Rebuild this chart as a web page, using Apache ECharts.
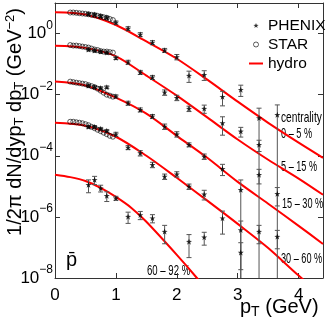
<!DOCTYPE html>
<html>
<head>
<meta charset="utf-8">
<script src="https://cdn.jsdelivr.net/npm/echarts@6/dist/echarts.min.js"></script>
<style>
html, body { margin: 0; padding: 0; background: #fff; }
#chart { width: 327px; height: 327px; }
</style>
</head>
<body>
<div id="chart"></div>
<script>
// hydro curves
var hydroPt = [0, 0.5, 1, 1.5, 2, 2.5, 3, 3.5, 4, 4.4];
var hydroPtPeri = [0, 0.25, 0.5, 0.75, 1, 1.25, 1.5, 2, 2.33, 2.5];
var hydro0_5 = [5.0, 4.2, 1.9, 0.55, 0.15, 0.031, 0.0059, 1.2e-3, 2.7e-4, 8.6e-5];
var hydro5_15 = [0.40, 0.34, 0.18, 0.042, 9.3e-3, 1.8e-3, 3.4e-4, 7.4e-5, 1.8e-5, 5.3e-6];
var hydro15_30 = [0.027, 0.020, 8.0e-3, 2.4e-3, 4.5e-4, 8.6e-5, 1.4e-5, 2.7e-6, 5.1e-7, 1.3e-7];
var hydro30_60 = [1.2e-3, 9.6e-4, 4.2e-4, 1.0e-4, 1.9e-5, 3.4e-6, 5.9e-7, 9.6e-8, 1.2e-8, 2.6e-9];
var hydro60_92 = [2.4e-5, 2.0e-5, 1.5e-5, 8.9e-6, 4.5e-6, 2.0e-6, 6.9e-7, 5.7e-8, 1.0e-8, 3.7e-9];

// PHENIX points and relative errors
var phenixPt = [0.55, 0.65, 0.75, 0.85, 1.0, 1.2, 1.4, 1.6, 1.8, 2.0, 2.2, 2.45, 2.75, 3.05, 3.35, 3.65];
var phenix0_5 = [4.36, 4.2, 3.75, 3.35, 2.3, 1.46, 0.93, 0.51, 0.283, 0.172, 0.042, 0.045, 8.6e-3, 0.0146, 1.72e-3, 2.2e-3];
var phenix5_15 = [0.30, 0.277, 0.257, 0.238, 0.16, 0.116, 0.054, 0.037, 0.0119, 7.97e-3, 3.5e-3, 3.5e-3, 1.18e-3, 6.3e-4, 2.3e-4, null];
var phenix15_30 = [0.0197, 0.0179, 0.0166, 0.0176, 8.8e-3, 5.3e-3, 3.2e-3, 1.95e-3, 9.1e-4, 5.1e-4, 2.3e-4, 9.5e-5, 3.75e-5, 7.7e-6, 2.4e-5, 5.7e-6];
var phenix30_60 = [8.9e-4, 8.9e-4, 7.7e-4, 6.6e-4, 5.1e-4, 1.87e-4, 1.23e-4, 5.1e-5, 2.1e-5, 2.5e-5, 9.9e-6, 5.5e-6, 9.1e-7, 3.75e-7, 3.3e-7, 2.26e-7];
var phenix60_92 = [1.12e-5, 1.63e-5, 8.7e-6, 4.9e-6, 4.1e-6, 1.02e-6, 1.16e-6, 9.1e-7, 3.3e-7, null, 1.55e-7, 2.16e-7, null, 6.8e-8, null, null];
var err0_5 = [0.1, 0.1, 0.1, 0.1, 0.12, 0.15, 0.15, 0.15, 0.15, 0.2, 0.4, 0.35, 0.5, 0.4, 1.1, 1.1];
var err5_15 = [0.1, 0.1, 0.1, 0.1, 0.12, 0.15, 0.15, 0.15, 0.2, 0.2, 0.2, 0.3, 0.6, 0.35, 0.4, null];
var err15_30 = [0.1, 0.1, 0.1, 0.1, 0.12, 0.15, 0.15, 0.15, 0.2, 0.2, 0.15, 0.2, 0.4, 1.1, 0.5, 0.6];
var err30_60 = [0.1, 0.1, 0.1, 0.1, 0.15, 0.15, 0.2, 0.2, 0.2, 0.2, 0.2, 0.35, 0.7, 0.95, 0.6, 0.6];
var err60_92 = [0.45, 0.3, 0.25, 0.35, 0.15, 0.4, 0.3, 0.3, 0.6, null, 0.7, 0.45, null, 1.1, null, null];

// STAR points
var starPt = [0.25, 0.3, 0.35, 0.4, 0.45, 0.5, 0.55, 0.6, 0.65, 0.7, 0.75, 0.8, 0.85, 0.9, 0.95];
var star0_5 = [4.88, 4.88, 4.77, 4.63, 4.53, 4.43, 4.29, 4.1, 3.98, 3.8, 3.61, 3.42, 3.27, 2.99, 2.77];
var star5_15 = [0.42, 0.404, 0.404, 0.389, 0.375, 0.361, 0.348, 0.322, 0.30, 0.288, 0.267, 0.257, 0.257, 0.247, 0.238];
var star15_30 = [0.0267, 0.0257, 0.0247, 0.0238, 0.023, 0.0221, 0.0205, 0.019, 0.0176, 0.0157, 0.0135, 0.0116, 0.01, 9.3e-3, 8.6e-3];
var star30_60 = [1.3e-3, 1.3e-3, 1.25e-3, 1.21e-3, 1.16e-3, 1.08e-3, 1.0e-3, 8.9e-4, 8.0e-4, 7.1e-4, 6.4e-4, 5.7e-4, 5.1e-4, 4.5e-4, 4.2e-4];

var xTicks = [0, 1, 2, 3, 4];
var yTicks = [1e-8, 1e-6, 1e-4, 1e-2, 1];

var FONT = "'Liberation Sans', Arial, sans-serif";
var STAR_PATH = 'path://M0,-10L2.35,-3.24L9.51,-3.09L3.8,1.24L5.88,8.09L0,4L-5.88,8.09L-3.8,1.24L-9.51,-3.09L-2.35,-3.24Z';

function zip(xs, ys) {
  var out = [];
  for (var i = 0; i < xs.length; i++) {
    if (ys[i] != null) out.push([xs[i], ys[i]]);
  }
  return out;
}

function errData(xs, ys, es) {
  var out = [];
  for (var i = 0; i < xs.length; i++) {
    if (ys[i] == null) continue;
    var lo = ys[i] * (1 - es[i]);
    if (lo <= 0) lo = 1e-10;
    out.push([xs[i], lo, ys[i] * (1 + es[i])]);
  }
  return out;
}

function renderErr(params, api) {
  var lo = api.coord([api.value(0), api.value(1)]);
  var hi = api.coord([api.value(0), api.value(2)]);
  var c = 2.5;
  var st = { stroke: '#555', lineWidth: 1 };
  return {
    type: 'group',
    children: [
      { type: 'line', shape: { x1: lo[0], y1: lo[1], x2: hi[0], y2: hi[1] }, style: st },
      { type: 'line', shape: { x1: hi[0] - c, y1: hi[1], x2: hi[0] + c, y2: hi[1] }, style: st },
      { type: 'line', shape: { x1: lo[0] - c, y1: lo[1], x2: lo[0] + c, y2: lo[1] }, style: st }
    ]
  };
}

var chart = echarts.init(document.getElementById('chart'));

var series = [];
[[hydroPt, hydro0_5], [hydroPt, hydro5_15], [hydroPt, hydro15_30], [hydroPt, hydro30_60], [hydroPtPeri, hydro60_92]].forEach(function (h) {
  series.push({
    name: 'hydro', type: 'line', data: zip(h[0], h[1]), smooth: 0.3, showSymbol: false,
    lineStyle: { color: '#ff0000', width: 2 }, itemStyle: { color: '#ff0000' }, clip: true, z: 2, silent: true
  });
});
[[phenix0_5, err0_5], [phenix5_15, err5_15], [phenix15_30, err15_30], [phenix30_60, err30_60], [phenix60_92, err60_92]].forEach(function (p) {
  series.push({
    name: 'err', type: 'custom', data: errData(phenixPt, p[0], p[1]), renderItem: renderErr, clip: true, z: 3, silent: true
  });
  series.push({
    name: 'PHENIX', type: 'scatter', data: zip(phenixPt, p[0]), symbol: STAR_PATH, symbolSize: 6,
    itemStyle: { color: '#000' }, z: 4, silent: true
  });
});
[star0_5, star5_15, star15_30, star30_60].forEach(function (s) {
  series.push({
    name: 'STAR', type: 'scatter', data: zip(starPt, s), symbol: 'circle', symbolSize: 5,
    itemStyle: { color: 'rgba(0,0,0,0)', borderColor: '#000', borderWidth: 0.8 }, z: 4, silent: true
  });
});

function yLabel(v) {
  var e = Math.round(Math.log10(v));
  return '{a|10}{b|' + (e < 0 ? '\u2212' + (-e) : e) + '}';
}

var axisLineStyle = { color: '#333', width: 1 };

// narrow-looking labels inside the plot
function label(txt, x, y, size, sx) {
  return { type: 'text', x: x, y: y, scaleX: sx,
    style: { text: txt, font: size + 'px ' + FONT, fill: '#000', verticalAlign: 'middle' } };
}

chart.setOption({
  animation: false,
  grid: { left: 55, right: 4, top: 3, bottom: 49 },
  xAxis: [{
    type: 'value', min: 0, max: 4.4, position: 'bottom',
    axisLine: { show: true, onZero: false, lineStyle: axisLineStyle },
    axisTick: { inside: true, length: 5, customValues: xTicks, lineStyle: axisLineStyle },
    axisLabel: { customValues: xTicks, fontSize: 17, fontFamily: FONT, color: '#000', margin: 9 },
    splitLine: { show: false }
  }, {
    type: 'value', min: 0, max: 4.4, position: 'top',
    axisLine: { show: true, onZero: false, lineStyle: axisLineStyle },
    axisTick: { inside: true, length: 5, customValues: xTicks, lineStyle: axisLineStyle },
    axisLabel: { show: false },
    splitLine: { show: false }
  }],
  yAxis: [{
    type: 'log', logBase: 10, min: 1e-8, max: 10, position: 'left',
    axisLine: { show: true, onZero: false, lineStyle: axisLineStyle },
    axisTick: { inside: true, length: 5, customValues: yTicks, lineStyle: axisLineStyle },
    axisLabel: {
      customValues: yTicks, formatter: yLabel, margin: 2, color: '#000',
      rich: {
        a: { fontSize: 17, fontFamily: FONT, color: '#000' },
        b: { fontSize: 12, fontFamily: FONT, color: '#000', padding: [0, 0, 16, 0] }
      }
    },
    splitLine: { show: false }
  }, {
    type: 'log', logBase: 10, min: 1e-8, max: 10, position: 'right',
    axisLine: { show: true, onZero: false, lineStyle: axisLineStyle },
    axisTick: { inside: true, length: 5, customValues: yTicks, lineStyle: axisLineStyle },
    axisLabel: { show: false },
    splitLine: { show: false }
  }],
  legend: {
    orient: 'vertical', left: 244, top: 11, itemWidth: 14, itemHeight: 5, itemGap: 0,
    textStyle: { fontSize: 15.5, fontFamily: FONT, color: '#000', lineHeight: 19 },
    selectedMode: false,
    data: [
      { name: 'PHENIX', icon: STAR_PATH, itemStyle: { color: '#000' } },
      { name: 'STAR', icon: 'circle', itemStyle: { color: '#fff', borderColor: '#000', borderWidth: 0.8 } },
      { name: 'hydro', icon: 'path://M0,0H14V2H0Z', itemStyle: { color: '#ff0000' } }
    ]
  },
  graphic: [
    { type: 'text', x: 15, y: 122, rotation: Math.PI / 2,
      style: { text: '1/2\u03c0 dN/dyp{s|T} dp{s|T} (GeV{u|\u22122})', font: '20px ' + FONT, fill: '#000', align: 'center', verticalAlign: 'middle',
        rich: { s: { fontSize: 13, fontFamily: FONT, padding: [9, 0, 0, 0] }, u: { fontSize: 13, fontFamily: FONT, padding: [0, 0, 9, 0] } } } },
    { type: 'text', x: 240, y: 307,
      style: { text: 'p{s|T} (GeV)', font: '20px ' + FONT, fill: '#000', align: 'left', verticalAlign: 'middle',
        rich: { s: { fontSize: 14, fontFamily: FONT, padding: [10, 0, 0, 0] } } } },
    { type: 'text', x: 66, y: 260, style: { text: 'p\u0304', font: '20px ' + FONT, fill: '#000', verticalAlign: 'middle' } },
    label('centrality', 281, 118, 15, 0.68),
    label('0 \u2013 5 %', 281, 134, 15, 0.61),
    label('5 \u2013 15 %', 281, 167, 15, 0.61),
    label('15 \u2013 30 %', 282, 204, 15, 0.61),
    label('30 \u2013 60 %', 281, 259, 15, 0.61),
    label('60 \u2013 92 %', 147, 271, 15, 0.64)
  ],
  series: series
});
</script>
</body>
</html>
